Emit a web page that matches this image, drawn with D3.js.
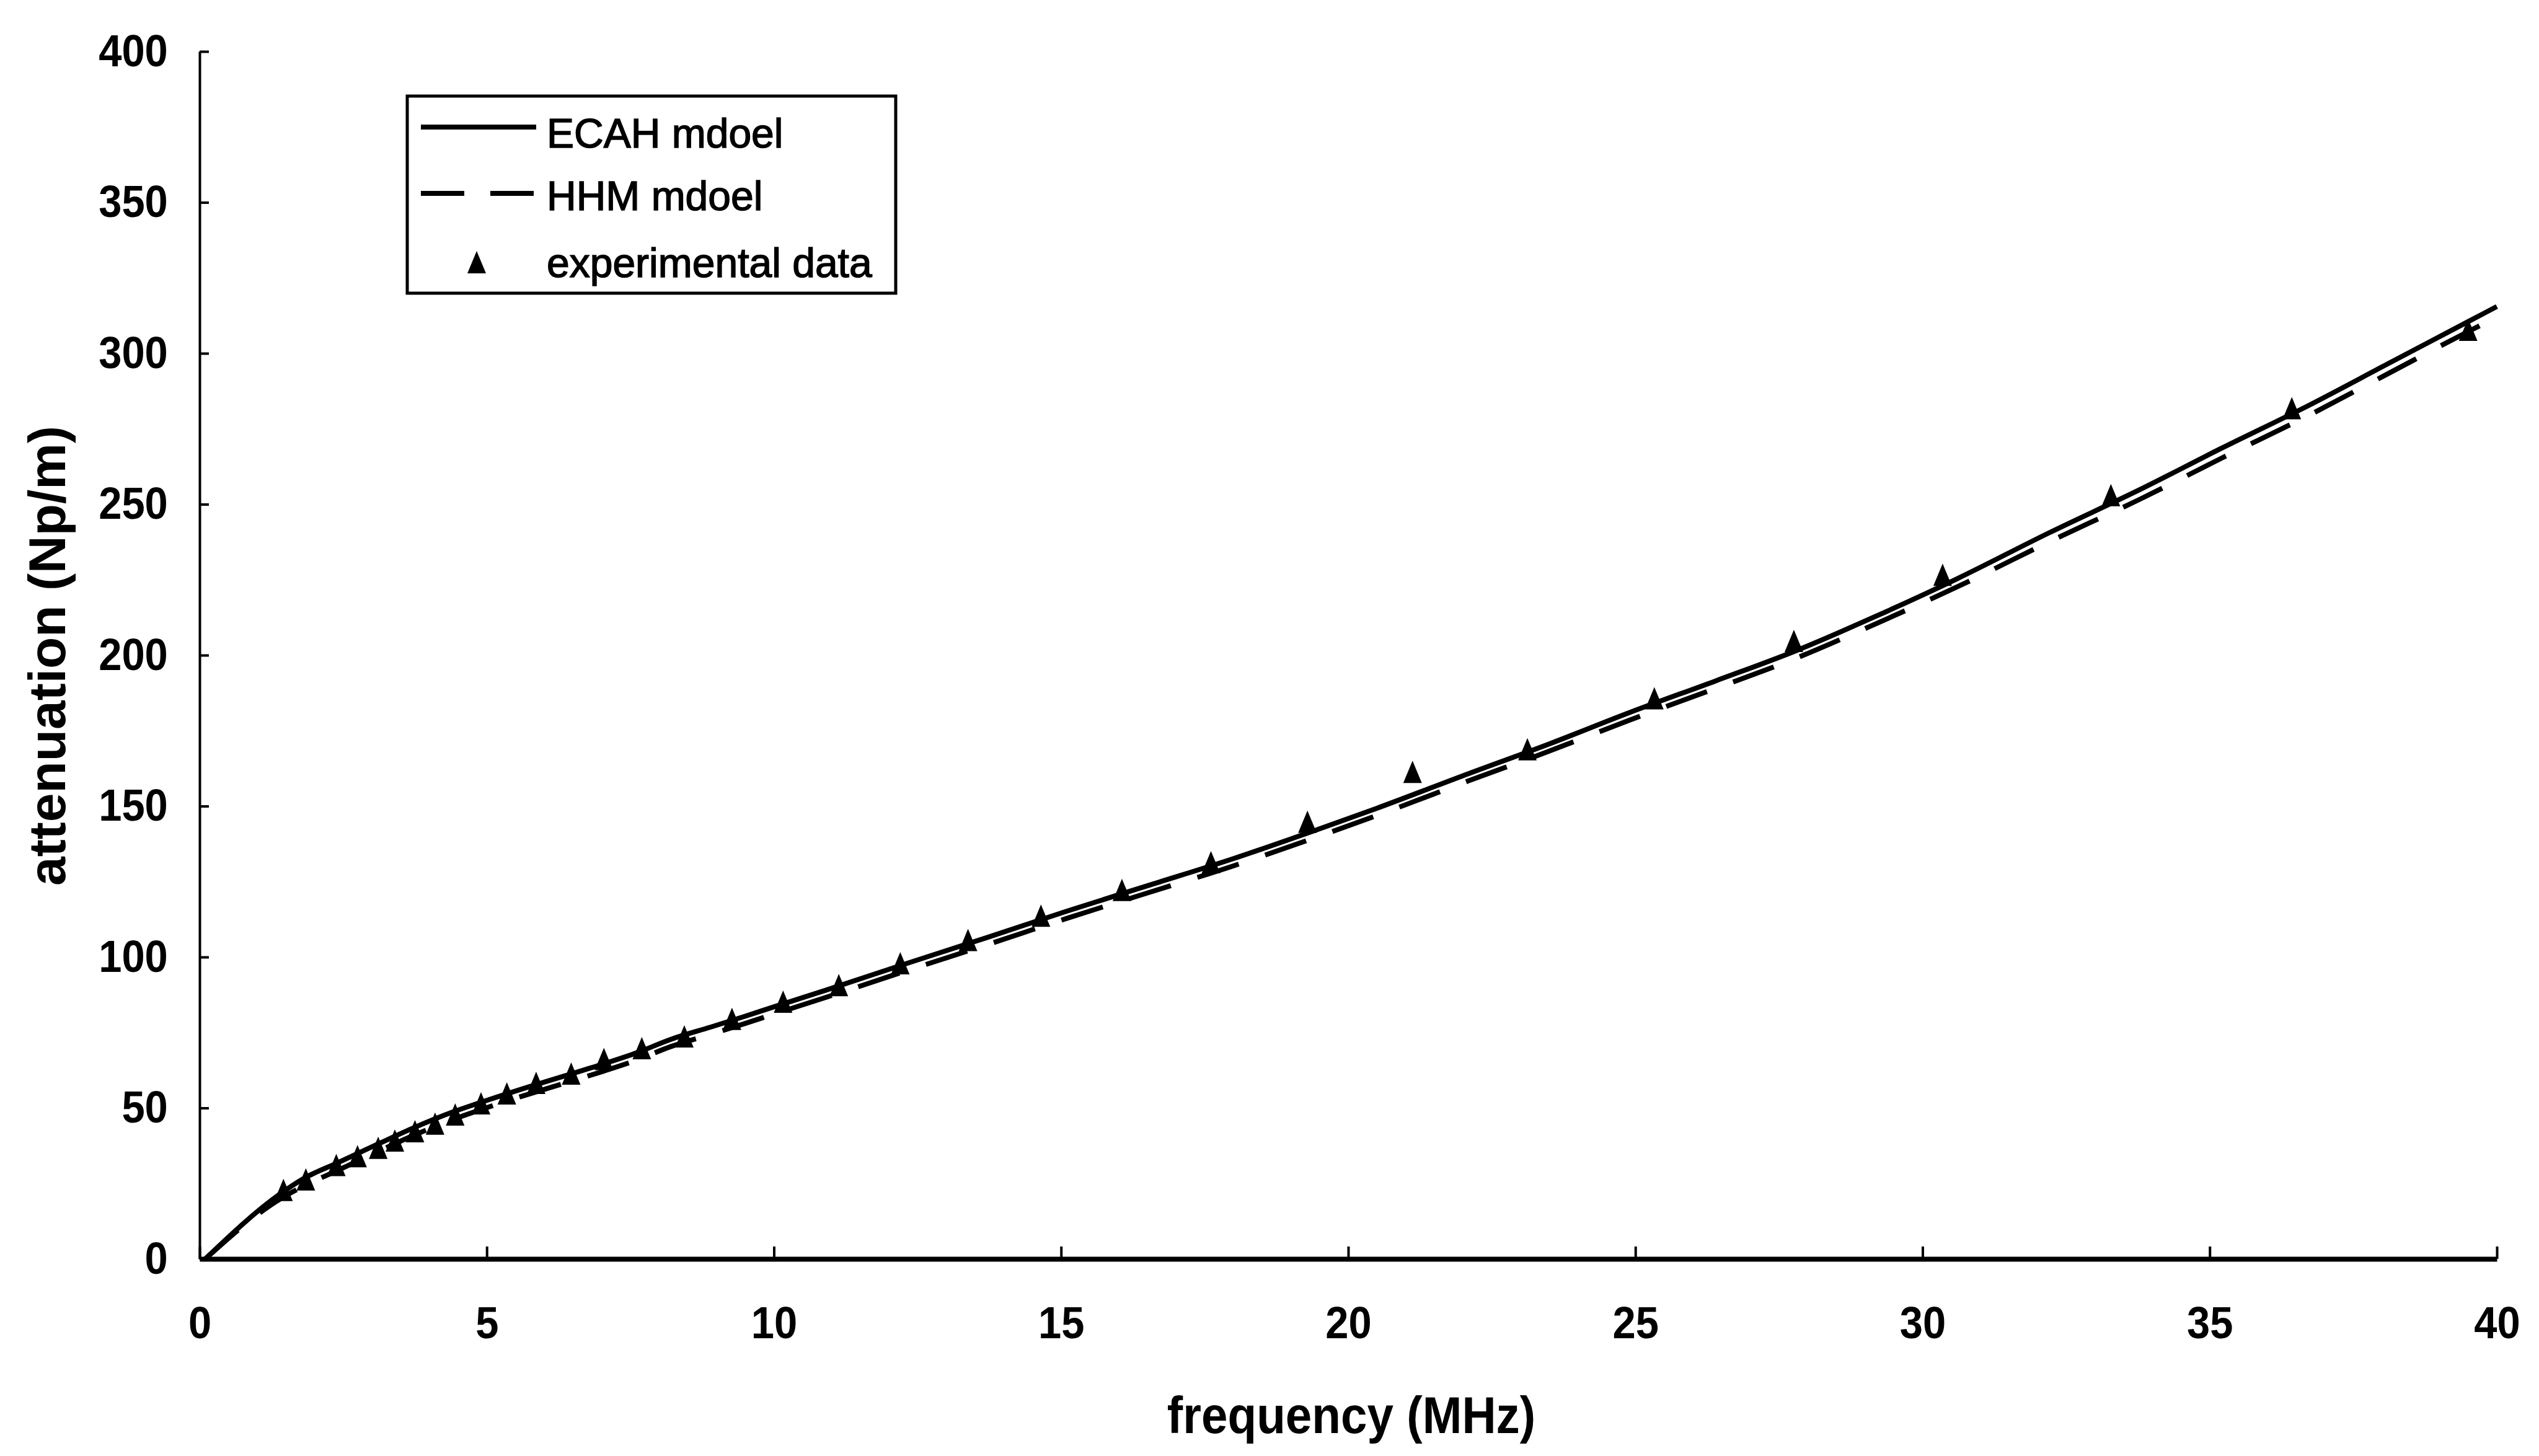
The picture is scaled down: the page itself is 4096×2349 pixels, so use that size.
<!DOCTYPE html>
<html>
<head>
<meta charset="utf-8">
<script src="https://cdn.jsdelivr.net/npm/d3@7"></script>
<style>
  html, body { margin: 0; padding: 0; background: #fff; }
  svg { display: block; }
  text { font-family: "Liberation Sans", Arial, Helvetica, sans-serif; fill: #000; }
</style>
</head>
<body>
<div id="chart"></div>
<script>
// model curves (MHz -> Np/m)
const modelFreq = [0.1, 1.4, 1.8, 2.4, 3.1, 3.7, 4.4, 5.0, 5.7, 6.3,
                   7.0, 7.6, 8.2, 8.9, 9.5, 10.0, 10.9, 12.3, 13.7, 15.1,
                   16.5, 18.0, 19.4, 20.5, 22.1, 23.5, 24.9, 26.4, 27.8, 29.2,
                   30.6, 32.2, 33.8, 35.2, 36.7, 38.1, 39.5, 40.0];
const ecahAtten = [0, 21.5, 26.5, 31.8, 38.0, 43.2, 48.6, 52.5, 56.8, 60.3,
                   64.4, 68.2, 72.7, 76.8, 80.4, 83.5, 89.0, 97.8, 106.4, 115.2,
                   123.6, 132.6, 141.8, 149.3, 160.8, 170.6, 181.0, 191.5, 201.5, 213.0,
                   225.3, 240.5, 255.0, 268.5, 282.5, 296.5, 310.5, 315.5];
const hhmAtten  = [0, 19.8, 24.0, 29.3, 35.5, 40.7, 46.1, 50.1, 54.4, 57.9,
                   62.0, 65.8, 70.3, 74.4, 78.0, 81.1, 86.6, 95.4, 104.0, 112.8,
                   121.2, 130.2, 139.4, 146.9, 158.4, 168.2, 178.5, 189.0, 199.0, 210.5,
                   222.6, 237.5, 251.8, 265.2, 279.2, 293.2, 307.2, 312.0];

// experimental points
const expFreq  = [1.46, 1.85, 2.38, 2.75, 3.11, 3.40, 3.75, 4.10, 4.45, 4.90,
                  5.35, 5.86, 6.47, 7.04, 7.70, 8.44, 9.27, 10.16, 11.13, 12.20,
                  13.38, 14.65, 16.06, 17.61, 19.29, 21.12, 23.12, 25.33, 27.76, 30.35,
                  33.28, 36.43, 39.50];
const expAtten = [22.0, 25.5, 30.3, 33.2, 36.0, 38.4, 41.5, 44.0, 47.0, 50.7,
                  54.0, 57.5, 60.6, 65.4, 69.0, 72.9, 78.7, 84.4, 89.9, 97.1,
                  104.8, 112.9, 121.4, 130.6, 144.0, 160.5, 168.0, 184.9, 203.9, 225.8,
                  252.2, 281.0, 307.0];

const xTicks = [0, 5, 10, 15, 20, 25, 30, 35, 40];
const yTicks = [0, 50, 100, 150, 200, 250, 300, 350, 400];
const legendLabels = ["ECAH mdoel", "HHM mdoel", "experimental data"];
const xTitle = "frequency (MHz)";
const yTitle = "attenuation (Np/m)";

const width = 4096, height = 2349;
const margin = {top: 83, right: 68, bottom: 318, left: 322};

const svg = d3.select("#chart").append("svg")
    .attr("width", width)
    .attr("height", height);

svg.append("rect").attr("width", width).attr("height", height).attr("fill", "#fff");

const x = d3.scaleLinear().domain([0, 40]).range([margin.left, width - margin.right]);
const y = d3.scaleLinear().domain([0, 400]).range([height - margin.bottom, margin.top]);

// axes
const xAxis = d3.axisBottom(x).tickValues(xTicks).tickSizeInner(-20).tickSizeOuter(0).tickPadding(77);
const yAxis = d3.axisLeft(y).tickValues(yTicks).tickSizeInner(-15).tickSizeOuter(0).tickPadding(55);

const xg = svg.append("g")
    .attr("transform", `translate(0,${height - margin.bottom})`)
    .call(xAxis);
const yg = svg.append("g")
    .attr("transform", `translate(${margin.left},0)`)
    .call(yAxis);

[xg, yg].forEach(g => {
    g.attr("font-size", null).attr("font-family", null);
    g.selectAll(".tick line").attr("stroke", "#000").attr("stroke-width", 4);
    g.selectAll(".tick text")
        .attr("font-size", 72)
        .attr("font-weight", "bold")
        .attr("transform", "scale(0.93,1)");
});
xg.select(".domain").attr("stroke", "#000").attr("stroke-width", 8);
yg.select(".domain").attr("stroke", "#000").attr("stroke-width", 4);

// axis titles
svg.append("text")
    .attr("transform", `translate(2180,2312) scale(0.91,1)`)
    .attr("text-anchor", "middle")
    .attr("font-size", 84)
    .attr("font-weight", "bold")
    .text(xTitle);

svg.append("text")
    .attr("transform", `translate(105,1058) rotate(-90)`)
    .attr("text-anchor", "middle")
    .attr("font-size", 84)
    .attr("font-weight", "bold")
    .text(yTitle);

// curves
const line = d3.line()
    .x(d => x(d[0]))
    .y(d => y(d[1]))
    .curve(d3.curveMonotoneX);

const hhm = modelFreq.map((f, i) => [f, hhmAtten[i]]);
const ecah = modelFreq.map((f, i) => [f, ecahAtten[i]]);

svg.append("path")
    .datum(hhm)
    .attr("d", line)
    .attr("fill", "none")
    .attr("stroke", "#000")
    .attr("stroke-width", 8)
    .attr("stroke-dasharray", "70,45");

svg.append("path")
    .datum(ecah)
    .attr("d", line)
    .attr("fill", "none")
    .attr("stroke", "#000")
    .attr("stroke-width", 8);

// triangles
const tri = "M0,-22L15,14L-15,14Z";
svg.append("g").selectAll("path")
    .data(expFreq.map((f, i) => [f, expAtten[i]]))
    .enter()
    .append("path")
    .attr("d", tri)
    .attr("transform", d => `translate(${x(d[0])},${y(d[1])})`)
    .attr("fill", "#000");

// legend
const lg = svg.append("g");
lg.append("rect")
    .attr("x", 657).attr("y", 155)
    .attr("width", 788).attr("height", 318)
    .attr("fill", "#fff")
    .attr("stroke", "#000")
    .attr("stroke-width", 5);

lg.append("line")
    .attr("x1", 679).attr("x2", 865).attr("y1", 205).attr("y2", 205)
    .attr("stroke", "#000").attr("stroke-width", 8);
lg.append("line")
    .attr("x1", 679).attr("x2", 865).attr("y1", 312).attr("y2", 312)
    .attr("stroke", "#000").attr("stroke-width", 8)
    .attr("stroke-dasharray", "70,42");
lg.append("path")
    .attr("d", tri)
    .attr("transform", "translate(769,427)")
    .attr("fill", "#000");

const legendBase = [238, 339, 447];
legendLabels.forEach((t, i) => {
    lg.append("text")
        .attr("x", 882)
        .attr("y", legendBase[i])
        .attr("font-size", 66)
        .attr("stroke", "#000")
        .attr("stroke-width", 1.5)
        .text(t);
});
</script>
</body>
</html>
